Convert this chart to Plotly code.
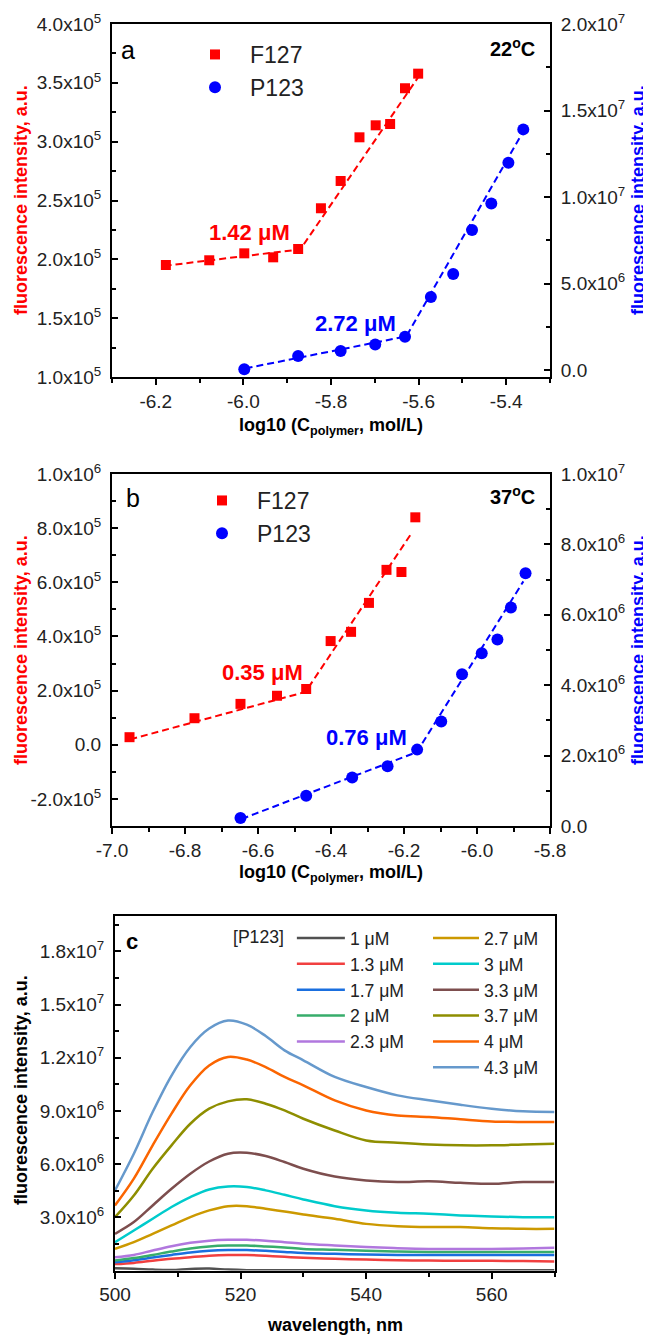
import plotly.graph_objects as go

W, H = 651, 1337
OFF = 8  # page body margin in front of the plot div
FONT = "Liberation Sans"

# ---- panel a (22 C) ----
a_f127_x = [-6.177, -6.078, -5.998, -5.932, -5.875, -5.823, -5.778, -5.735, -5.698, -5.665, -5.631, -5.601]
a_f127_y = [1.952e5, 1.992e5, 2.051e5, 2.017e5, 2.088e5, 2.434e5, 2.666e5, 3.037e5, 3.139e5, 3.150e5, 3.454e5, 3.578e5]
a_p123_x = [-5.998, -5.875, -5.778, -5.699, -5.631, -5.572, -5.521, -5.478, -5.434, -5.395, -5.361]
a_p123_y = [0.05e6, 0.81e6, 1.10e6, 1.48e6, 1.93e6, 4.22e6, 5.55e6, 8.09e6, 9.62e6, 11.98e6, 13.91e6]
a_f127_fit_x = [-6.18, -5.87, -5.595]
a_f127_fit_y = [1.945e5, 2.085e5, 3.58e5]
a_p123_fit_x = [-5.995, -5.628, -5.362]
a_p123_fit_y = [0.1e6, 1.95e6, 13.75e6]

# ---- panel b (37 C) ----
b_f127_x = [-6.952, -6.774, -6.648, -6.548, -6.468, -6.401, -6.345, -6.296, -6.248, -6.207, -6.169]
b_f127_y = [0.028e6, 0.098e6, 0.151e6, 0.181e6, 0.206e6, 0.383e6, 0.417e6, 0.524e6, 0.646e6, 0.638e6, 0.840e6]
b_p123_x = [-6.648, -6.468, -6.342, -6.245, -6.164, -6.098, -6.041, -5.987, -5.944, -5.907, -5.867]
b_p123_y = [0.23e6, 0.86e6, 1.38e6, 1.70e6, 2.17e6, 2.97e6, 4.31e6, 4.91e6, 5.30e6, 6.21e6, 7.18e6]
b_f127_fit_x = [-6.95, -6.47, -6.18]
b_f127_fit_y = [0.02e6, 0.195e6, 0.78e6]
b_p123_fit_x = [-6.645, -6.165, -5.873]
b_p123_fit_y = [0.2e6, 2.1e6, 6.95e6]

# ---- panel c spectra ----
wavelength = [500, 503, 506, 509, 512, 515, 518, 521, 524, 527, 530, 535, 540, 545, 550, 555, 560, 565, 570]
conc_labels = ["1 μM", "1.3 μM", "1.7 μM", "2 μM", "2.3 μM", "2.7 μM",
               "3 μM", "3.3 μM", "3.7 μM", "4 μM", "4.3 μM"]
spectra_1e6 = [
    [0.12, 0.10, 0.05, 0.03, 0.09, 0.11, 0.05, 0.02, 0.02, 0.02, 0.02, 0.02, 0.02, 0.02, 0.02, 0.02, 0.02, 0.02, 0.02],
    [0.36, 0.43, 0.55, 0.66, 0.75, 0.83, 0.87, 0.87, 0.83, 0.77, 0.72, 0.66, 0.62, 0.58, 0.56, 0.55, 0.55, 0.53, 0.51],
    [0.47, 0.58, 0.73, 0.88, 1.02, 1.11, 1.15, 1.15, 1.11, 1.05, 0.99, 0.94, 0.90, 0.88, 0.87, 0.87, 0.87, 0.87, 0.87],
    [0.56, 0.70, 0.88, 1.07, 1.24, 1.36, 1.41, 1.41, 1.36, 1.30, 1.22, 1.17, 1.11, 1.07, 1.05, 1.05, 1.05, 1.05, 1.05],
    [0.75, 0.88, 1.13, 1.37, 1.56, 1.68, 1.73, 1.73, 1.68, 1.60, 1.51, 1.41, 1.32, 1.26, 1.22, 1.22, 1.22, 1.24, 1.28],
    [1.22, 1.60, 2.07, 2.54, 3.01, 3.39, 3.63, 3.63, 3.48, 3.33, 3.16, 2.92, 2.63, 2.50, 2.45, 2.45, 2.39, 2.35, 2.35],
    [1.60, 2.26, 2.92, 3.58, 4.14, 4.57, 4.74, 4.71, 4.52, 4.27, 4.01, 3.63, 3.39, 3.26, 3.20, 3.11, 3.05, 3.01, 3.01],
    [2.07, 2.73, 3.67, 4.61, 5.46, 6.15, 6.59, 6.64, 6.46, 6.12, 5.74, 5.30, 5.08, 4.99, 5.03, 4.95, 4.89, 4.99, 4.99],
    [3.01, 4.23, 5.74, 7.06, 8.28, 9.13, 9.54, 9.66, 9.41, 9.03, 8.56, 7.90, 7.34, 7.21, 7.11, 7.06, 7.06, 7.11, 7.15],
    [3.67, 5.18, 7.06, 8.85, 10.45, 11.57, 12.05, 11.90, 11.48, 10.92, 10.45, 9.60, 9.03, 8.75, 8.66, 8.53, 8.41, 8.38, 8.38],
    [4.52, 6.59, 8.94, 11.00, 12.61, 13.65, 14.10, 13.87, 13.23, 12.42, 11.86, 10.92, 10.35, 9.88, 9.60, 9.35, 9.13, 8.98, 8.94],
]
line_colors = ["#515151", "#F14040", "#1A6FDF", "#37AD6B", "#B177DE", "#CC9900",
               "#00CBCC", "#7D4E4E", "#8E8E00", "#FB6501", "#6699CC"]

# tick labels
a_left_vals = [1.0e5, 1.5e5, 2.0e5, 2.5e5, 3.0e5, 3.5e5, 4.0e5]
a_left_text = ["1.0x10<sup>5</sup>", "1.5x10<sup>5</sup>", "2.0x10<sup>5</sup>", "2.5x10<sup>5</sup>",
               "3.0x10<sup>5</sup>", "3.5x10<sup>5</sup>", "4.0x10<sup>5</sup>"]
a_right_vals = [0, 5e6, 1e7, 1.5e7, 2e7]
a_right_text = ["0.0", "5.0x10<sup>6</sup>", "1.0x10<sup>7</sup>", "1.5x10<sup>7</sup>", "2.0x10<sup>7</sup>"]
a_x_vals = [-6.2, -6.0, -5.8, -5.6, -5.4]
b_left_vals = [-2e5, 0, 2e5, 4e5, 6e5, 8e5, 1e6]
b_left_text = ["-2.0x10<sup>5</sup>", "0.0", "2.0x10<sup>5</sup>", "4.0x10<sup>5</sup>",
               "6.0x10<sup>5</sup>", "8.0x10<sup>5</sup>", "1.0x10<sup>6</sup>"]
b_right_vals = [0, 2e6, 4e6, 6e6, 8e6, 1e7]
b_right_text = ["0.0", "2.0x10<sup>6</sup>", "4.0x10<sup>6</sup>", "6.0x10<sup>6</sup>",
                "8.0x10<sup>6</sup>", "1.0x10<sup>7</sup>"]
b_x_vals = [-7.0, -6.8, -6.6, -6.4, -6.2, -6.0, -5.8]
c_left_vals = [3e6, 6e6, 9e6, 1.2e7, 1.5e7, 1.8e7]
c_left_text = ["3.0x10<sup>6</sup>", "6.0x10<sup>6</sup>", "9.0x10<sup>6</sup>",
               "1.2x10<sup>7</sup>", "1.5x10<sup>7</sup>", "1.8x10<sup>7</sup>"]
c_x_vals = [500, 520, 540, 560]

FW, FH = W - OFF, H - OFF


# screen pixel -> paper fraction
def px(x):
    return (x - OFF) / FW


def py(y):
    return 1 - (y - OFF) / FH


RED, BLUE = "#FF0000", "#0000FF"
DASH = "7px,4px"

fig = go.Figure()

# panel a
fig.add_trace(go.Scatter(x=a_f127_fit_x, y=a_f127_fit_y, mode="lines", xaxis="x", yaxis="y",
                         line=dict(color=RED, width=2, dash=DASH), showlegend=False))
fig.add_trace(go.Scatter(x=a_p123_fit_x, y=a_p123_fit_y, mode="lines", xaxis="x", yaxis="y2",
                         line=dict(color=BLUE, width=2, dash=DASH), showlegend=False))
fig.add_trace(go.Scatter(x=a_f127_x, y=a_f127_y, mode="markers", name="F127", xaxis="x", yaxis="y",
                         marker=dict(symbol="square", size=10, color=RED), legend="legend"))
fig.add_trace(go.Scatter(x=a_p123_x, y=a_p123_y, mode="markers", name="P123", xaxis="x", yaxis="y2",
                         marker=dict(symbol="circle", size=12, color=BLUE), legend="legend"))

# panel b
fig.add_trace(go.Scatter(x=b_f127_fit_x, y=b_f127_fit_y, mode="lines", xaxis="x2", yaxis="y3",
                         line=dict(color=RED, width=2, dash=DASH), showlegend=False))
fig.add_trace(go.Scatter(x=b_p123_fit_x, y=b_p123_fit_y, mode="lines", xaxis="x2", yaxis="y4",
                         line=dict(color=BLUE, width=2, dash=DASH), showlegend=False))
fig.add_trace(go.Scatter(x=b_f127_x, y=b_f127_y, mode="markers", name="F127", xaxis="x2", yaxis="y3",
                         marker=dict(symbol="square", size=10, color=RED), legend="legend2"))
fig.add_trace(go.Scatter(x=b_p123_x, y=b_p123_y, mode="markers", name="P123", xaxis="x2", yaxis="y4",
                         marker=dict(symbol="circle", size=12, color=BLUE), legend="legend2"))

# panel c
for i, (lab, vals, col) in enumerate(zip(conc_labels, spectra_1e6, line_colors)):
    fig.add_trace(go.Scatter(x=wavelength, y=[v * 1e6 for v in vals], mode="lines", name=lab,
                             xaxis="x3", yaxis="y5", line=dict(color=col, width=2.5, shape="spline"),
                             legend="legend3" if i < 5 else "legend4"))

tickfont = dict(family=FONT, size=19, color="#222")
base = dict(showline=True, linecolor="black", linewidth=2, showgrid=False, zeroline=False,
            tickfont=tickfont, tickwidth=2, tickcolor="black", automargin=False)


def xax(dom, rng, vals, anchor, mdt):
    return dict(base, domain=dom, range=rng, tickmode="array", tickvals=vals,
                ticktext=[str(v) if isinstance(v, int) else f"{v:.1f}" for v in vals],
                ticks="outside", ticklen=6, anchor=anchor, mirror=True,
                minor=dict(tick0=rng[0], dtick=mdt, ticks="outside", ticklen=4, tickwidth=2, tickcolor="black"))


def yax(dom, rng, vals, text, anchor, mdt, side="left", overlay=None):
    d = dict(base, domain=dom, range=rng, tickmode="array", tickvals=vals, ticktext=text,
             ticks="inside", ticklen=6, anchor=anchor, side=side, ticklabelstandoff=5,
             minor=dict(tick0=0, dtick=mdt, ticks="inside", ticklen=4, tickwidth=2, tickcolor="black"))
    if overlay:
        d["overlaying"] = overlay
    return d


dom_x_ab = [px(112), px(550)]
dom_x_c = [px(115), px(554.5)]
dom_a = [py(377), py(24)]
dom_b = [py(826), py(474)]
dom_c = [py(1270.5), py(916)]

leg_font_big = dict(family=FONT, size=23, color="#222")
leg_font_small = dict(family=FONT, size=17.6, color="#222")

fig.update_layout(
    width=FW, height=FH, margin=dict(l=0, r=0, t=0, b=0),
    paper_bgcolor="white", plot_bgcolor="white",
    xaxis=xax(dom_x_ab, [-6.3, -5.3], a_x_vals, "y", 0.1),
    yaxis=yax(dom_a, [1e5, 4e5], a_left_vals, a_left_text, "x", 0.25e5),
    yaxis2=yax(dom_a, [-0.4e6, 2e7], a_right_vals, a_right_text, "x", 2.5e6, side="right", overlay="y"),
    xaxis2=xax(dom_x_ab, [-7.0, -5.8], b_x_vals, "y3", 0.1),
    yaxis3=yax(dom_b, [-3e5, 1e6], b_left_vals, b_left_text, "x2", 1e5),
    yaxis4=yax(dom_b, [0, 1e7], b_right_vals, b_right_text, "x2", 1e6, side="right", overlay="y3"),
    xaxis3=xax(dom_x_c, [500, 570], c_x_vals, "y5", 10),
    yaxis5=yax(dom_c, [0, 2e7], c_left_vals, c_left_text, "x3", 1.5e6),
    legend=dict(x=px(180), y=py(33), xanchor="left", yanchor="top", bgcolor="rgba(0,0,0,0)",
                font=leg_font_big, itemwidth=60),
    legend2=dict(x=px(187), y=py(479), xanchor="left", yanchor="top", bgcolor="rgba(0,0,0,0)",
                 font=leg_font_big, itemwidth=60),
    legend3=dict(x=px(231), y=py(920), xanchor="left", yanchor="top", bgcolor="rgba(0,0,0,0)",
                 font=leg_font_small, itemwidth=48,
                 title=dict(text="[P123]", side="left", font=leg_font_small)),
    legend4=dict(x=px(428), y=py(920), xanchor="left", yanchor="top", bgcolor="rgba(0,0,0,0)",
                 font=leg_font_small, itemwidth=46),
)
fig.update_layout(yaxis5=dict(mirror=True))

ann = []
title_font = dict(family=FONT, size=18)
# axis titles
for yc in [200, 650]:
    ann.append(dict(x=px(21), y=py(yc), text="<b>fluorescence intensity, a.u.</b>", textangle=-90,
                    font=dict(title_font, color=RED)))
    ann.append(dict(x=px(638), y=py(yc), text="<b>fluorescence intensity, a.u.</b>", textangle=-90,
                    font=dict(title_font, color=BLUE)))
ann.append(dict(x=px(21), y=py(1090), text="<b>fluorescence intensity, a.u.</b>", textangle=-90,
                font=dict(title_font, color="black")))
for yc in [427, 873]:
    ann.append(dict(x=px(331), y=py(yc), text="<b>log10 (C<sub>polymer</sub>, mol/L)</b>",
                    font=dict(title_font, color="black")))
ann.append(dict(x=px(335), y=py(1325), text="<b>wavelength, nm</b>", font=dict(title_font, color="black")))
# panel letters and temperatures
ann.append(dict(x=px(128), y=py(50), text="a", font=dict(family=FONT, size=25, color="black")))
ann.append(dict(x=px(133), y=py(498), text="b", font=dict(family=FONT, size=25, color="black")))
ann.append(dict(x=px(132), y=py(941), text="<b>c</b>", font=dict(family=FONT, size=22, color="black")))
ann.append(dict(x=px(537), y=py(48), xanchor="right", text="<b>22<sup>o</sup>C</b>",
                font=dict(family=FONT, size=20, color="black")))
ann.append(dict(x=px(537), y=py(495), xanchor="right", text="<b>37<sup>o</sup>C</b>",
                font=dict(family=FONT, size=20, color="black")))
# cmc labels
lab_font = dict(family=FONT, size=22)
ann.append(dict(x=-5.985, y=2.224e5, xref="x", yref="y", text="<b>1.42 μM</b>", font=dict(lab_font, color=RED)))
ann.append(dict(x=-5.745, y=2.72e6, xref="x", yref="y2", text="<b>2.72 μM</b>", font=dict(lab_font, color=BLUE)))
ann.append(dict(x=-6.588, y=0.267e6, xref="x2", yref="y3", text="<b>0.35 μM</b>", font=dict(lab_font, color=RED)))
ann.append(dict(x=-6.304, y=2.52e6, xref="x2", yref="y4", text="<b>0.76 μM</b>", font=dict(lab_font, color=BLUE)))

for a in ann:
    a.setdefault("xref", "paper")
    a.setdefault("yref", "paper")
    a.setdefault("xanchor", "center")
    a["yanchor"] = "middle"
    a["showarrow"] = False
fig.update_layout(annotations=ann)

fig.write_html("out.html")
